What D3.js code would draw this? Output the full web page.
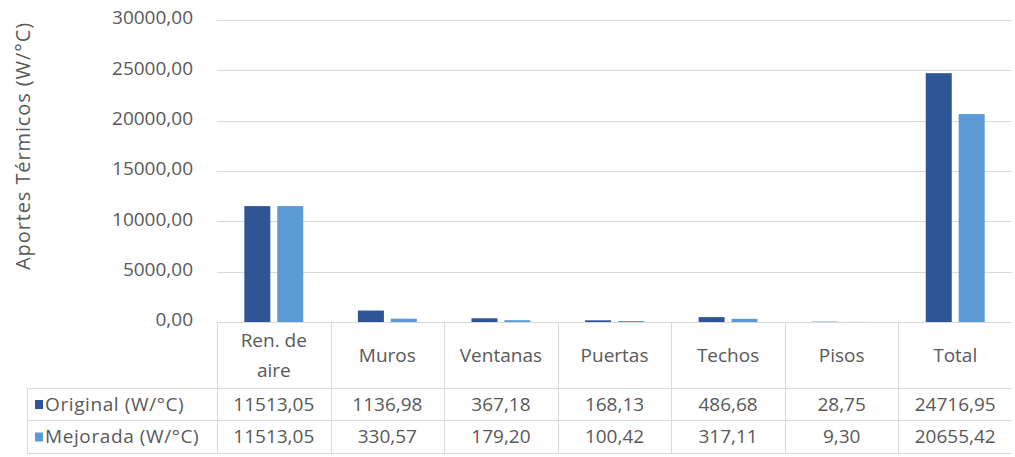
<!DOCTYPE html>
<html>
<head>
<meta charset="utf-8">
<script src="https://cdn.jsdelivr.net/npm/d3@7"></script>
<style>
  body { margin: 0; background: #fff; }
  svg text { font-family: 'Open Sans', sans-serif; fill: #595959; }
</style>
</head>
<body>
<div id="chart"></div>
<script>
// data
const categories = ['Ren. de aire', 'Muros', 'Ventanas', 'Puertas', 'Techos', 'Pisos', 'Total']
const seriesNames = ['Original (W/°C)', 'Mejorada (W/°C)']
const original = [11513.05, 1136.98, 367.18, 168.13, 486.68, 28.75, 24716.95]
const mejorada = [11513.05, 330.57, 179.20, 100.42, 317.11, 9.30, 20655.42]
const yTicks = [0, 5000, 10000, 15000, 20000, 25000, 30000]
const colors = ['#2f5597', '#5b9bd5']

const width = 1015
const height = 457
const plot = { left: 217, right: 1012, top: 20, bottom: 322 }
const rowH = [66, 32, 33] // header row, then one row per series
const labelLeft = 27

const fmt = v => v.toFixed(2).replace('.', ',')

const svg = d3.select('#chart')
  .append('svg')
  .attr('width', width)
  .attr('height', height)

const x = d3.scaleBand()
  .domain(categories)
  .range([plot.left, plot.right])

const x1 = d3.scaleBand()
  .domain(seriesNames)
  .range([0, x.bandwidth()])
  .paddingInner(0.21)
  .paddingOuter(0.83)

const y = d3.scaleLinear()
  .domain([0, 30000])
  .range([plot.bottom, plot.top])

// gridlines
svg.append('g')
  .selectAll('line')
  .data(yTicks.slice(1))
  .enter()
  .append('line')
  .attr('x1', plot.left)
  .attr('x2', plot.right)
  .attr('y1', d => Math.round(y(d)) + 0.5)
  .attr('y2', d => Math.round(y(d)) + 0.5)
  .attr('stroke', '#d9d9d9')
  .attr('stroke-width', 1)

// y axis labels
const yAxis = svg.append('g')
  .attr('transform', 'translate(' + (plot.left - 24) + ',0)')
  .call(d3.axisLeft(y).tickValues(yTicks).tickSize(0).tickPadding(0).tickFormat(fmt))
yAxis.select('.domain').remove()
yAxis.selectAll('text')
  .style('font-size', '19px')
  .style('font-family', "'Open Sans', sans-serif")
  .attr('fill', '#595959')
  .attr('dy', '0.2em')

// axis title
svg.append('text')
  .attr('transform', 'translate(30,146) rotate(-90)')
  .attr('text-anchor', 'middle')
  .style('font-size', '20px')
  .style('letter-spacing', '0.9px')
  .text('Aportes Térmicos (W/°C)')

// bars
const rows = categories.map((c, i) => ({ cat: c, vals: [original[i], mejorada[i]] }))
svg.append('g')
  .selectAll('g')
  .data(rows)
  .enter()
  .append('g')
  .attr('transform', d => 'translate(' + x(d.cat) + ',0)')
  .selectAll('rect')
  .data(d => d.vals.map((v, j) => ({ s: seriesNames[j], v: v, j: j })))
  .enter()
  .append('rect')
  .attr('x', d => x1(d.s))
  .attr('y', d => y(d.v))
  .attr('width', x1.bandwidth())
  .attr('height', d => y(0) - y(d.v))
  .attr('fill', d => colors[d.j])

// data table
const grid = '#d9d9d9'
const tTop = plot.bottom
const r1 = tTop + rowH[0]
const r2 = r1 + rowH[1]
const r3 = r2 + rowH[2]
const table = svg.append('g')

// horizontal lines
table.append('line')
  .attr('x1', plot.left).attr('x2', plot.right)
  .attr('y1', tTop + 0.5).attr('y2', tTop + 0.5)
  .attr('stroke', grid)
;[r1, r2, r3].forEach(yy => {
  table.append('line')
    .attr('x1', labelLeft).attr('x2', plot.right)
    .attr('y1', yy + 0.5).attr('y2', yy + 0.5)
    .attr('stroke', grid)
})
// vertical lines
table.append('line')
  .attr('x1', labelLeft + 0.5).attr('x2', labelLeft + 0.5)
  .attr('y1', r1).attr('y2', r3)
  .attr('stroke', grid)
table.selectAll('.vline')
  .data(categories)
  .enter()
  .append('line')
  .attr('class', 'vline')
  .attr('x1', d => Math.round(x(d)) + 0.5)
  .attr('x2', d => Math.round(x(d)) + 0.5)
  .attr('y1', tTop)
  .attr('y2', r3)
  .attr('stroke', grid)

// category header labels
table.selectAll('.cat')
  .data(categories)
  .enter()
  .append('text')
  .attr('class', 'cat')
  .attr('text-anchor', 'middle')
  .attr('x', d => x(d) + x.bandwidth() / 2)
  .style('font-size', '19px')
  .each(function(d) {
    const lines = d === 'Ren. de aire' ? ['Ren. de', 'aire'] : [d]
    const t = d3.select(this)
    const y0 = tTop + rowH[0] / 2 - (lines.length - 1) * 15
    lines.forEach((l, k) => {
      t.append('tspan')
        .attr('x', x(d) + x.bandwidth() / 2)
        .attr('y', y0 + k * 30)
        .attr('dy', '0.35em')
        .text(l)
    })
  })

// series rows
const seriesVals = [original, mejorada]
const rowTops = [r1, r2]
seriesNames.forEach((name, j) => {
  const cy = rowTops[j] + rowH[j + 1] / 2
  table.append('rect')
    .attr('x', 35)
    .attr('y', cy - 4)
    .attr('width', 8)
    .attr('height', 9)
    .attr('fill', colors[j])
  table.append('text')
    .attr('x', 45)
    .attr('y', cy)
    .attr('dy', '0.35em')
    .style('font-size', '19px')
    .style('letter-spacing', '0.6px')
    .text(name)
  table.selectAll('.v' + j)
    .data(categories)
    .enter()
    .append('text')
    .attr('class', 'v' + j)
    .attr('text-anchor', 'middle')
    .attr('x', d => x(d) + x.bandwidth() / 2)
    .attr('y', cy)
    .attr('dy', '0.35em')
    .style('font-size', '19px')
    .text((d, i) => fmt(seriesVals[j][i]))
})
</script>
</body>
</html>
